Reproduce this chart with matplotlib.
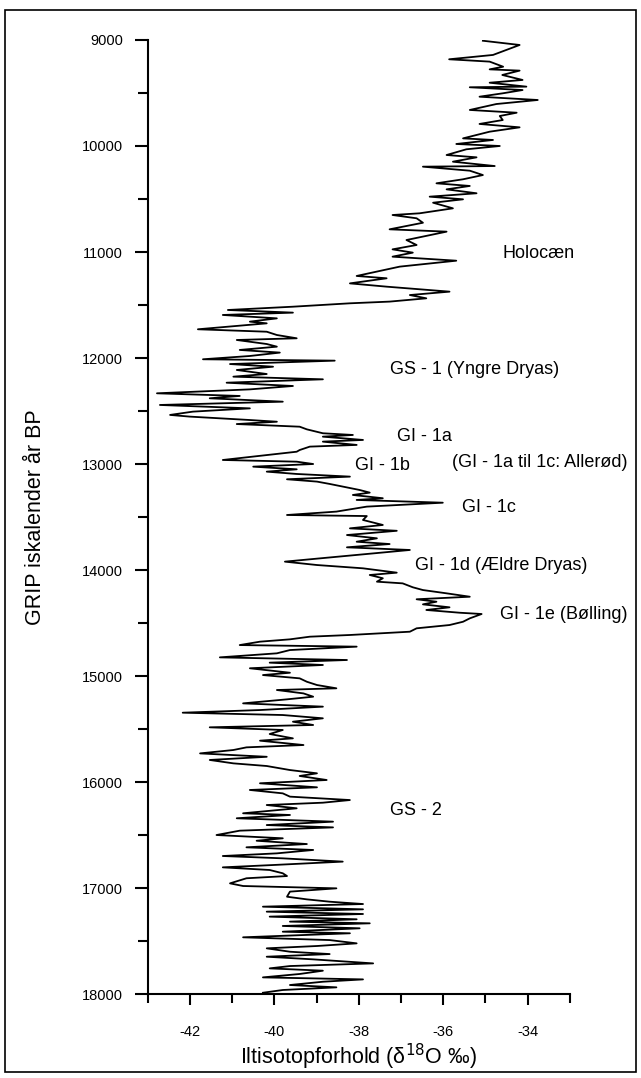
import matplotlib
matplotlib.use("Agg")
import matplotlib.pyplot as plt
from matplotlib.patches import Rectangle

plt.rcParams['font.family'] = ['Liberation Sans', 'DejaVu Sans']

# GRIP ice-core years (BP)
years = [9007, 9047, 9141, 9182, 9204, 9252, 9277, 9289, 9330, 9377, 9403, 9440, 9446, 9472,
         9503, 9535, 9566, 9604, 9660, 9686, 9717, 9755, 9792, 9824, 9865, 9928, 9943, 9981,
         10000, 10031, 10085, 10107, 10148, 10189, 10195, 10233, 10274, 10314, 10352, 10377,
         10409, 10446, 10478, 10503, 10535, 10588, 10635, 10651, 10682, 10724, 10786, 10808,
         10887, 10934, 10975, 11006, 11044, 11082, 11138, 11226, 11248, 11296, 11327, 11374,
         11406, 11437, 11468, 11484, 11516, 11547, 11572, 11594, 11626, 11657, 11673, 11729,
         11752, 11783, 11814, 11830, 11868, 11893, 11924, 11949, 11981, 12012, 12025, 12057,
         12082, 12113, 12151, 12176, 12201, 12233, 12264, 12296, 12333, 12358, 12380, 12412,
         12443, 12475, 12506, 12537, 12553, 12585, 12601, 12623, 12648, 12673, 12710, 12726,
         12742, 12773, 12789, 12820, 12836, 12868, 12884, 12962, 12978, 13000, 13025, 13050,
         13072, 13094, 13119, 13144, 13166, 13188, 13245, 13270, 13292, 13323, 13339, 13365,
         13402, 13449, 13481, 13491, 13528, 13575, 13607, 13630, 13670, 13701, 13733, 13755,
         13786, 13811, 13921, 13953, 13984, 14025, 14047, 14078, 14110, 14126, 14163, 14189,
         14220, 14252, 14276, 14299, 14324, 14352, 14377, 14403, 14415, 14456, 14488, 14519,
         14550, 14582, 14613, 14629, 14654, 14676, 14708, 14723, 14755, 14786, 14824, 14849,
         14874, 14896, 14927, 14969, 14991, 15022, 15054, 15085, 15116, 15132, 15164, 15195,
         15220, 15258, 15289, 15321, 15346, 15368, 15399, 15431, 15462, 15484, 15509, 15547,
         15588, 15610, 15651, 15673, 15698, 15730, 15762, 15792, 15824, 15849, 15887, 15918,
         15943, 15981, 16012, 16050, 16075, 16107, 16138, 16170, 16195, 16217, 16248, 16295,
         16311, 16342, 16374, 16406, 16428, 16459, 16500, 16531, 16554, 16585, 16616, 16641,
         16673, 16698, 16720, 16751, 16783, 16805, 16830, 16861, 16887, 16908, 16956, 16981,
         17003, 17034, 17082, 17107, 17129, 17151, 17176, 17201, 17223, 17245, 17270, 17295,
         17317, 17333, 17358, 17380, 17412, 17427, 17465, 17491, 17522, 17547, 17569, 17601,
         17623, 17648, 17673, 17711, 17736, 17758, 17780, 17811, 17843, 17862, 17884, 17915,
         17937, 17962, 17988]

# delta-18O (permil)
d18o = [-35.06, -34.19, -34.82, -35.86, -34.90, -34.58, -34.90, -34.19, -34.60, -34.12, -34.90,
        -34.03, -35.37, -34.12, -34.59, -35.14, -33.76, -34.74, -35.37, -34.26, -34.66, -34.59,
        -35.14, -34.19, -34.90, -35.53, -34.82, -35.69, -34.66, -35.45, -35.92, -35.21, -35.77,
        -34.78, -36.48, -35.37, -35.06, -35.53, -36.16, -35.37, -35.92, -35.21, -36.32, -35.53,
        -36.24, -35.77, -36.56, -37.20, -36.63, -36.48, -37.27, -35.92, -36.87, -36.63, -37.20,
        -36.72, -37.20, -35.69, -37.03, -38.05, -37.34, -38.21, -37.34, -35.85, -36.79, -36.40,
        -37.27, -38.21, -39.56, -41.10, -39.56, -41.22, -39.94, -40.58, -40.18, -41.81, -40.18,
        -39.94, -39.47, -40.89, -40.18, -39.94, -40.82, -39.87, -40.58, -41.69, -38.57, -41.05,
        -40.03, -40.89, -40.18, -40.97, -38.85, -41.13, -39.56, -40.58, -42.78, -40.82, -41.53,
        -39.80, -42.71, -40.58, -41.93, -42.47, -42.00, -40.58, -39.94, -40.89, -39.40, -39.23,
        -38.85, -38.14, -38.85, -37.90, -38.85, -38.05, -39.16, -39.40, -39.47, -41.22, -39.47,
        -39.08, -40.50, -39.47, -40.18, -39.47, -38.21, -39.70, -38.99, -38.69, -37.98, -37.74,
        -38.14, -37.43, -38.05, -36.01, -37.81, -38.53, -39.70, -37.81, -37.90, -37.43, -38.21,
        -37.10, -38.28, -37.57, -38.05, -37.27, -38.28, -36.79, -39.75, -38.99, -37.90, -37.10,
        -37.74, -37.43, -37.57, -36.96, -36.72, -36.48, -35.92, -35.37, -36.63, -36.16, -36.48,
        -35.85, -36.40, -35.61, -35.09, -35.37, -35.53, -35.85, -36.63, -36.79, -38.21, -39.16,
        -39.63, -40.34, -40.82, -38.05, -39.63, -39.94, -41.29, -38.28, -40.11, -38.85, -40.58,
        -39.63, -40.27, -39.40, -39.23, -38.99, -38.53, -39.94, -39.31, -39.08, -39.70, -40.74,
        -38.85, -40.34, -42.17, -39.80, -38.85, -39.56, -39.08, -41.53, -39.80, -40.11, -39.56,
        -40.34, -39.31, -40.66, -40.97, -41.76, -40.18, -41.53, -40.97, -40.18, -39.63, -38.99,
        -39.40, -38.76, -40.34, -38.99, -40.58, -39.80, -39.63, -38.21, -38.85, -40.18, -39.47,
        -40.74, -39.63, -40.89, -38.61, -40.18, -38.61, -40.82, -41.37, -39.80, -40.42, -39.23,
        -40.66, -39.08, -39.94, -41.22, -39.80, -38.38, -40.03, -41.22, -40.11, -39.80, -39.70,
        -40.66, -41.05, -40.74, -38.53, -39.63, -39.70, -39.23, -38.69, -37.90, -40.27, -37.90,
        -40.18, -37.90, -40.11, -38.05, -39.63, -37.74, -39.80, -37.98, -39.80, -38.21, -40.74,
        -38.69, -38.05, -38.99, -40.18, -39.63, -38.69, -40.18, -39.08, -37.66, -39.63, -40.11,
        -38.85, -39.40, -40.27, -37.90, -38.85, -39.63, -38.53, -39.80, -40.27]

labels = ["Holocæn", "GS - 1 (Yngre Dryas)", "GI - 1a", "GI - 1b",
          "(GI - 1a til 1c: Allerød)", "GI - 1c", "GI - 1d (Ældre Dryas)",
          "GI - 1e (Bølling)", "GS - 2"]
label_x = [-34.59, -37.27, -37.10, -38.09, -35.78, -35.56, -36.67, -34.66, -37.27]
label_y = [11010, 12113, 12745, 13010, 12990, 13410, 13953, 14415, 16264]

yticks = [9000, 10000, 11000, 12000, 13000, 14000, 15000, 16000, 17000, 18000]
xticks = [-42, -40, -38, -36, -34]

fig = plt.figure(figsize=(6.41, 10.78), dpi=100)
ax = fig.add_axes([0.2304, 0.0779, 0.889 - 0.2304, 0.9629 - 0.0779])

ax.plot(d18o, years, color='black', lw=1.3)

ax.set_xlim(-43, -33)
ax.set_ylim(18000, 9000)
ax.set_yticks(yticks)
ax.set_yticks(range(9500, 18000, 1000), minor=True)
ax.set_xticks(xticks)
ax.set_xticks([-43, -41, -39, -37, -35, -33], minor=True)
ax.set_xticklabels([str(v) for v in xticks])

for s in ['top', 'right']:
    ax.spines[s].set_visible(False)
for s in ['left', 'bottom']:
    ax.spines[s].set_linewidth(1.5)

ax.tick_params(axis='y', which='major', direction='out', length=9.2, width=1.5,
               labelsize=10.5, pad=8.5)
ax.tick_params(axis='y', which='minor', direction='out', length=7.2, width=1.5)
ax.tick_params(axis='x', which='major', direction='out', length=8, width=1.5,
               labelsize=10.5, pad=14)
ax.tick_params(axis='x', which='minor', direction='out', length=6.5, width=1.5)

ax.set_ylabel("GRIP iskalender år BP", fontsize=15.5, labelpad=26)
ax.set_xlabel("Iltisotopforhold (δ$^{18}$O ‰)", fontsize=15.5, labelpad=2)

for t, x, y in zip(labels, label_x, label_y):
    ax.text(x, y, t, fontsize=13, ha='left', va='center')

fig.patches.append(Rectangle((5 / 641, 6 / 1078), 631 / 641, 1062 / 1078,
                             transform=fig.transFigure, fill=False,
                             edgecolor='black', lw=1.2))

fig.savefig("out.png", dpi=100)
